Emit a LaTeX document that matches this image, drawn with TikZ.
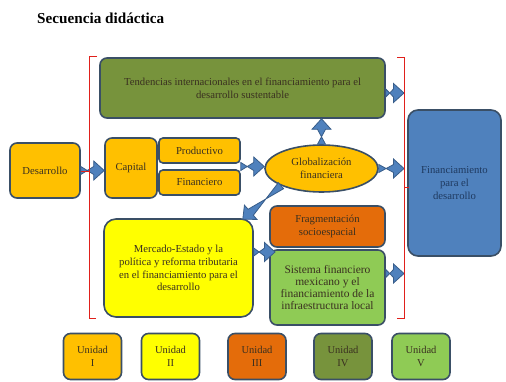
\documentclass[tikz,border=0pt]{standalone}
\usepackage{fontspec}
\setmainfont{Liberation Serif}
\usetikzlibrary{shapes.geometric,calc}
\definecolor{bordc}{HTML}{3A4F66}
\definecolor{txtc}{HTML}{3A3020}
\definecolor{gold}{HTML}{FFC000}
\definecolor{yel}{HTML}{FFFF00}
\definecolor{oran}{HTML}{E46C0A}
\definecolor{olive}{HTML}{77933C}
\definecolor{lgreen}{HTML}{8FCB55}
\definecolor{bluebox}{HTML}{4F81BD}
\definecolor{bluetxt}{HTML}{1F3A60}
\definecolor{arrf}{HTML}{4F81BD}
\definecolor{arrd}{HTML}{385D8A}
\definecolor{redc}{HTML}{E0201B}
\newcommand\blockarr[2]{%
  \path (#1) coordinate (ba-s) (#2) coordinate (ba-e);
  \path ($(ba-e)!10.5pt!(ba-s)$) coordinate (ba-h);
  \draw[barrow] ($(ba-s)!4pt!90:(ba-e)$) -- ($(ba-h)!4pt!90:(ba-s)$)
    -- ($(ba-h)!9.5pt!90:(ba-s)$) -- (ba-e) -- ($(ba-h)!9.5pt!-90:(ba-s)$)
    -- ($(ba-h)!4pt!-90:(ba-s)$) -- ($(ba-s)!4pt!-90:(ba-e)$) -- cycle;
}
\begin{document}
\begin{tikzpicture}[x=1pt,y=-1pt,
  box/.style={draw=bordc, line width=1.6pt, rounded corners=7pt, inner sep=1pt,
    align=center, font=\fontsize{10.7}{12.7}\selectfont, text=txtc},
  barrow/.style={fill=arrf, draw=arrd, line width=0.8pt, line join=miter},
  br/.style={draw=redc, line width=0.9pt}]
\useasboundingbox (0,0) rectangle (506,381);
\node[anchor=west, font=\fontsize{15.2}{17}\selectfont\bfseries, inner sep=0pt] (title) at (37,18) {Secuencia didáctica};

% bracket reference points
\coordinate (rb) at (404,0);
\coordinate (lb) at (89,0);

\node[box, fill=olive, minimum width=285pt, minimum height=60pt] (tend) at (242.5,88)
  {Tendencias internacionales en el financiamiento para el\\desarrollo sustentable};
\node[box, fill=bluebox, text=bluetxt, rounded corners=10pt, minimum width=93pt, minimum height=146pt] (fpd) at (454.5,183)
  {Financiamiento\\para el\\desarrollo};
\node[box, fill=gold, minimum width=70pt, minimum height=55pt] (des) at (45,170.5) {Desarrollo};
\node[box, fill=gold, minimum width=52pt, minimum height=60pt] (cap) at (131,168) {Capital};
\node[box, fill=gold, rounded corners=4pt, minimum width=81pt, minimum height=25pt] (prod) at (199.5,150.5) {Productivo};
\node[box, fill=gold, rounded corners=4pt, minimum width=81pt, minimum height=25pt] (fin) at (199.5,182.5) {Financiero};
\node[box, ellipse, fill=gold, inner sep=0pt, minimum width=113pt, minimum height=47pt] (glob) at (321.5,168.5)
  {Globalización\\financiera};
\node[box, fill=yel, rounded corners=12pt, minimum width=149pt, minimum height=98pt] (merc) at (178.5,268)
  {Mercado-Estado y la\\política y reforma tributaria\\en el financiamiento para el\\desarrollo};
\node[box, fill=oran, minimum width=115pt, minimum height=41pt] (frag) at (327.5,226.5)
  {Fragmentación\\socioespacial};
\node[box, fill=lgreen, minimum width=115pt, minimum height=75pt, font=\fontsize{11.5}{12.3}\selectfont] (sis) at (327.5,287.5)
  {Sistema financiero\\mexicano y el\\financiamiento de la\\infraestructura local};

% legend
\tikzset{leg/.style={box, minimum width=58pt, minimum height=46pt, font=\fontsize{10.5}{12.5}\selectfont}}
\node[leg, fill=gold] (u1) at (92.5,356.5) {Unidad\\I};
\node[leg, fill=yel] (u2) at (170.5,356.5) {Unidad\\II};
\node[leg, fill=oran] (u3) at (257,356.5) {Unidad\\III};
\node[leg, fill=olive] (u4) at (343,356.5) {Unidad\\IV};
\node[leg, fill=lgreen] (u5) at (421,356.5) {Unidad\\V};

% block arrows
\blockarr{des.east}{des.east -| cap.west}
\coordinate (pf) at ($(prod.south east)!0.5!(fin.north east)$);
\blockarr{pf}{pf -| glob.west}
\blockarr{glob.north}{glob.north |- tend.south}
\blockarr{glob.east}{glob.east -| rb}
\coordinate (te) at ($(tend.east)+(0,5)$);
\blockarr{te}{te -| rb}
\coordinate (gsw) at (glob.south west);
\coordinate (mne) at ($(merc.north east)+(-11,1)$);
\blockarr{gsw}{mne}
\coordinate (me) at (merc.east |- 0,252);
\blockarr{me}{275,252}
\coordinate (se) at ($(sis.east)+(0,-14)$);
\blockarr{se}{se -| rb}

% red brackets
\draw[br] (97,56) -- (89,56) -- (89,318) -- (96,318);
\draw[br] (89,171) -- (81,171);
\draw[br] (397,57) -- (404,57) -- (404,318) -- (397,318);
\draw[br] (404,187) -- (409,187);
\end{tikzpicture}
\end{document}
